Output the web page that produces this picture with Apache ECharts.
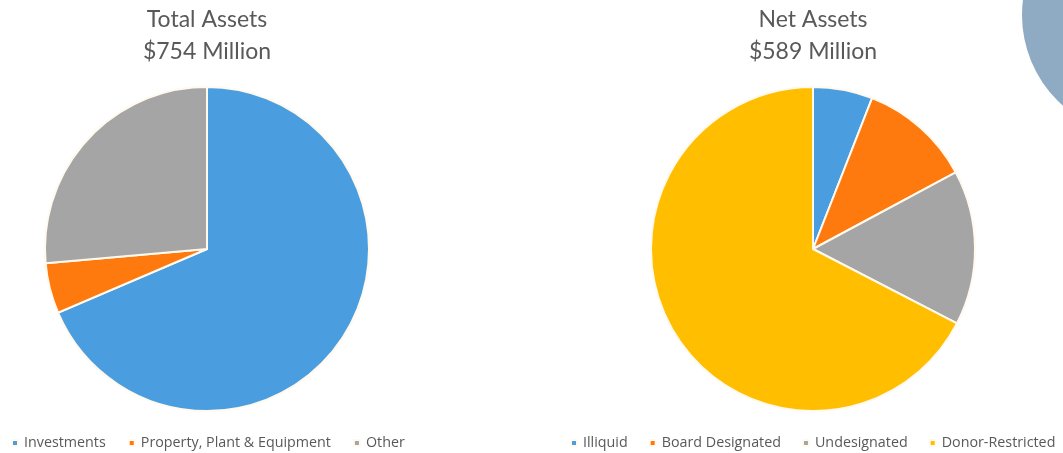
<!DOCTYPE html>
<html>
<head>
<meta charset="utf-8">
<script src="https://cdn.jsdelivr.net/npm/echarts@6/dist/echarts.min.js"></script>
<style>
  html, body { margin: 0; padding: 0; background: #ffffff; }
  #chart { width: 1063px; height: 453px; }
</style>
</head>
<body>
<div id="chart"></div>
<script>
// Total assets breakdown ($ millions)
const totalCategories = ['Investments', 'Property, Plant & Equipment', 'Other'];
const totalValues = [517, 38, 199];
const totalColors = ['#4A9EE0', '#FF7A0E', '#A5A5A5'];

// Net assets breakdown ($ millions)
const netCategories = ['Illiquid', 'Board Designated', 'Undesignated', 'Donor-Restricted'];
const netValues = [35, 66, 91, 397];
const netColors = ['#4A9EE0', '#FF7A0E', '#A5A5A5', '#FFBE00'];

const titles = ['Total Assets\n$754 Million', 'Net Assets\n$589 Million'];

const titleFont = 'Lato, "Open Sans", sans-serif';
const legendFont = '"Open Sans", Lato, sans-serif';
const textGray = '#595959';

function toData(names, values, colors) {
  return names.map((n, i) => ({ name: n, value: values[i], itemStyle: { color: colors[i] } }));
}

const chart = echarts.init(document.getElementById('chart'), null, { renderer: 'canvas' });

const titleStyle = { fontFamily: titleFont, fontSize: 23, fontWeight: 'normal', color: textGray, lineHeight: 32 };
const legendText = { fontFamily: legendFont, fontSize: 14.3, color: textGray, padding: [0, 0, 0, 1] };

chart.setOption({
  backgroundColor: '#ffffff',
  animation: false,
  title: [
    { text: titles[0], left: 207, top: 4, padding: 0, textAlign: 'center', textStyle: titleStyle },
    { text: titles[1], left: 813, top: 4, padding: 0, textAlign: 'center', textStyle: titleStyle }
  ],
  legend: [
    { data: totalCategories, left: 11, top: 436, padding: 0, icon: 'rect', itemWidth: 6, itemHeight: 6,
      itemGap: 22, textStyle: legendText },
    { data: netCategories, left: 570, top: 436, padding: 0, icon: 'rect', itemWidth: 6, itemHeight: 6,
      itemGap: 21, textStyle: legendText }
  ],
  graphic: [
    { type: 'circle', shape: { cx: 1143, cy: 15, r: 121 }, style: { fill: '#8FAAC3' }, silent: true }
  ],
  series: [
    { type: 'pie', name: 'Total Assets', center: [207, 249], radius: 162, startAngle: 90, clockwise: true,
      label: { show: false }, labelLine: { show: false },
      itemStyle: { borderColor: '#FFF9EE', borderWidth: 2 },
      data: toData(totalCategories, totalValues, totalColors) },
    { type: 'pie', name: 'Net Assets', center: [813, 249], radius: 162, startAngle: 90, clockwise: true,
      label: { show: false }, labelLine: { show: false },
      itemStyle: { borderColor: '#FFF9EE', borderWidth: 2 },
      data: toData(netCategories, netValues, netColors) }
  ]
});
</script>
</body>
</html>
